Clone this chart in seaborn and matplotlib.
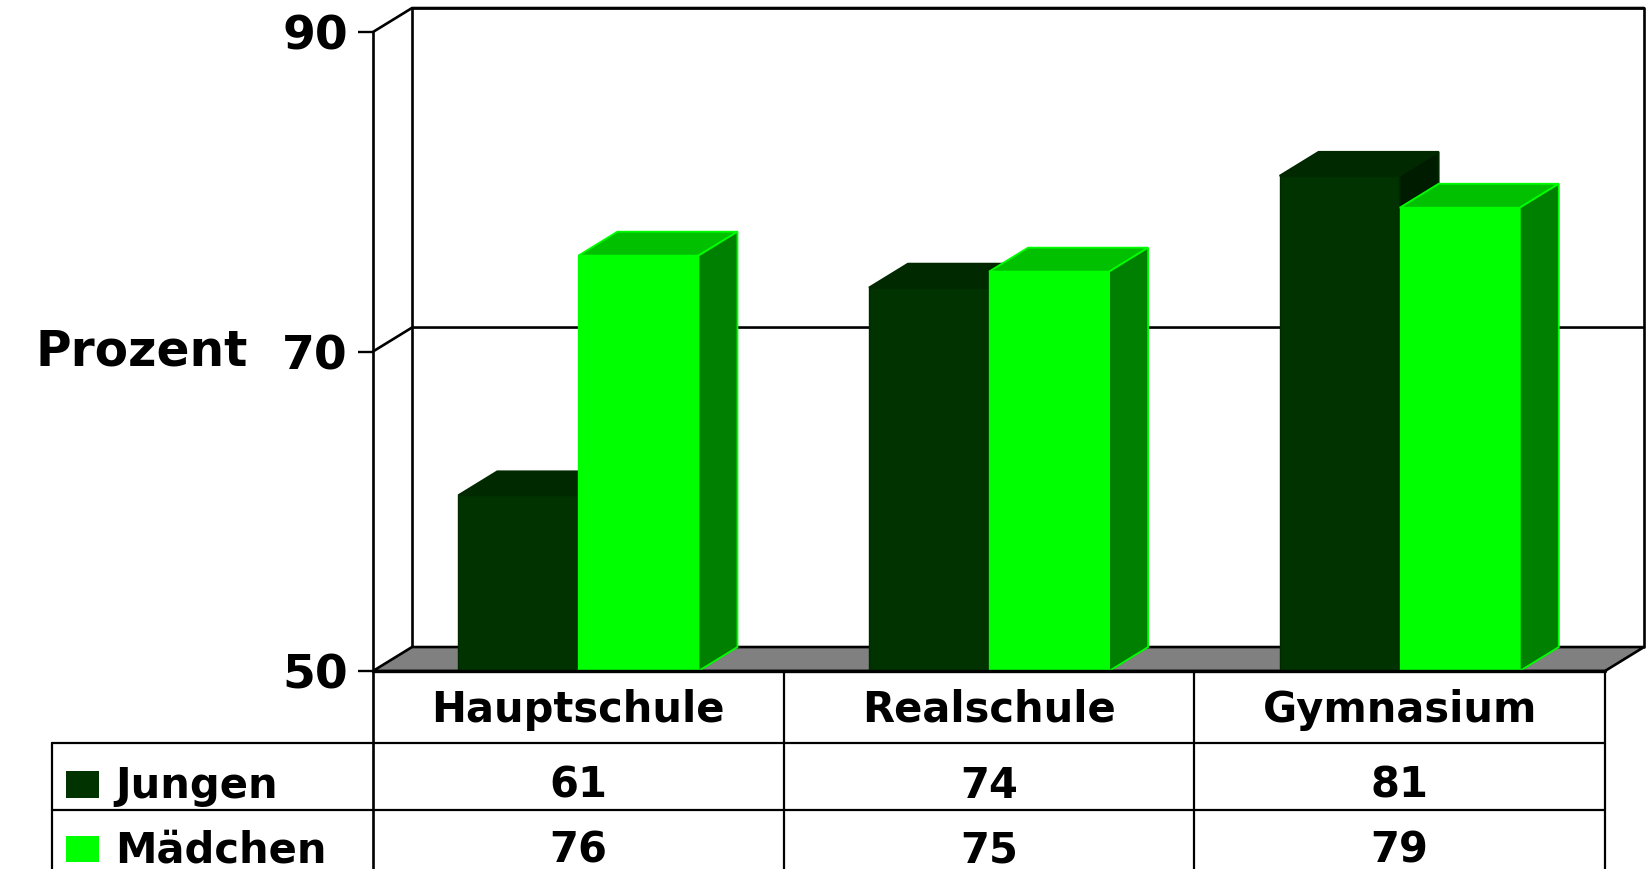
import pandas as pd
import matplotlib.pyplot as plt
import seaborn as sns
from matplotlib.patches import Polygon, Rectangle

# data
schulen = ['Hauptschule', 'Realschule', 'Gymnasium']
gruppen = ['Jungen', 'Mädchen']
jungen = [61, 74, 81]
maedchen = [76, 75, 79]
yticks = [50, 70, 90]

sns.set_theme(style='white')
plt.rcParams['font.family'] = ['DejaVu Sans']
plt.rcParams['font.weight'] = 'bold'

df = pd.DataFrame({
    'Schule': schulen * 2,
    'Prozent': jungen + maedchen,
    'Gruppe': [gruppen[0]] * 3 + [gruppen[1]] * 3,
})

# colours of the three visible faces of each bar
front = {'Jungen': '#003300', 'Mädchen': '#00ff00'}
top = {'Jungen': '#002900', 'Mädchen': '#00c000'}
side = {'Jungen': '#001c00', 'Mädchen': '#008000'}
edge = {'Jungen': '#002900', 'Mädchen': '#00ff00'}

fig = plt.figure(figsize=(16.46, 8.69), dpi=100)
ax = fig.add_axes([373 / 1646, 198 / 869, 1232 / 1646, 639 / 869])

sns.barplot(data=df, x='Schule', y='Prozent', hue='Gruppe', order=schulen,
            hue_order=gruppen, palette=front, width=0.585, saturation=1,
            legend=False, ax=ax)
ax.set_xlim(-0.5, 2.5)
ax.set_ylim(50, 90)
ymin = 50

# depth of the fake 3d (data units)
dx, dy = 0.095, 1.5
lw = 1.9

# back wall, side wall and floor
ax.plot([-0.5 + dx, -0.5 + dx, 2.5 + dx, 2.5 + dx],
        [ymin + dy, 90 + dy, 90 + dy, ymin + dy], color='black', lw=lw, clip_on=False, zorder=1)
for v in yticks[1:]:
    ax.plot([-0.5, -0.5 + dx, 2.5 + dx], [v, v + dy, v + dy],
            color='black', lw=lw, clip_on=False, zorder=1)
floor = Polygon([(-0.5, ymin), (2.5, ymin), (2.5 + dx, ymin + dy), (-0.5 + dx, ymin + dy)],
                closed=True, facecolor='#808080', edgecolor='black', lw=lw,
                clip_on=False, zorder=1)
ax.add_patch(floor)

# 3d faces on top of the seaborn bars
for i, p in enumerate(ax.patches[:6]):
    g = gruppen[i // 3]
    z = 2 + i // 3
    x0, w, h = p.get_x(), p.get_width(), p.get_height()
    p.set_edgecolor(edge[g])
    p.set_linewidth(1.0)
    p.set_zorder(z)
    ax.add_patch(Polygon([(x0, h), (x0 + w, h), (x0 + w + dx, h + dy), (x0 + dx, h + dy)],
                         closed=True, facecolor=top[g], edgecolor=edge[g], lw=1.3, zorder=z))
    ax.add_patch(Polygon([(x0 + w, ymin), (x0 + w + dx, ymin + dy), (x0 + w + dx, h + dy), (x0 + w, h)],
                         closed=True, facecolor=side[g], edgecolor=edge[g], lw=1.3, zorder=z))

for s in ax.spines.values():
    s.set_visible(False)
ax.set_xticks([])
ax.set_xlabel('')
ax.set_yticks(yticks)
ax.tick_params(axis='y', left=True, length=11, width=1.7, pad=7, labelsize=34,
               colors='black')
for t in ax.get_yticklabels():
    t.set_fontweight('bold')
ax.set_ylabel('Prozent', rotation=0, fontsize=35, fontweight='bold', color='black',
              ha='right', va='center')
ax.yaxis.set_label_coords(-0.1015, 0.5)

# data table below the plot (x in data units, y in axes units)
tr = ax.get_xaxis_transform()
left = -1.2817
row_lines = [-0.1127, -0.2175]
bottom = -0.35
ax.plot([-0.5, -0.5], [1, bottom], color='black', lw=lw, transform=tr, clip_on=False, zorder=6)
ax.plot([-0.5, 2.5], [0, 0], color='black', lw=2.4, transform=tr, clip_on=False, zorder=6)
for xv in [0.5, 1.5, 2.5]:
    ax.plot([xv, xv], [0, bottom], color='black', lw=1.6, transform=tr, clip_on=False, zorder=6)
ax.plot([left, left], [row_lines[0], bottom], color='black', lw=1.6, transform=tr, clip_on=False)
for yv in row_lines:
    ax.plot([left, 2.5], [yv, yv], color='black', lw=1.6, transform=tr, clip_on=False)

for i, s in enumerate(schulen):
    ax.text(i, -0.0798, s, transform=tr, ha='center', va='baseline', fontsize=30,
            fontweight='bold', color='black')

rows = [jungen, maedchen]
baselines = [-0.1987, -0.2995]
for g, vals, yb in zip(gruppen, rows, baselines):
    for i, v in enumerate(vals):
        ax.text(i, yb, str(v), transform=tr, ha='center', va='baseline', fontsize=30,
                fontweight='bold', color='black')
    ax.add_patch(Rectangle((-1.2476, yb), 0.0804, 0.0415, transform=tr,
                           facecolor=front[g], edgecolor='none', clip_on=False))
    ax.text(-1.128, yb, g, transform=tr, ha='left', va='baseline', fontsize=30,
            fontweight='bold', color='black')

fig.savefig('out.png', dpi=100, facecolor='white')
